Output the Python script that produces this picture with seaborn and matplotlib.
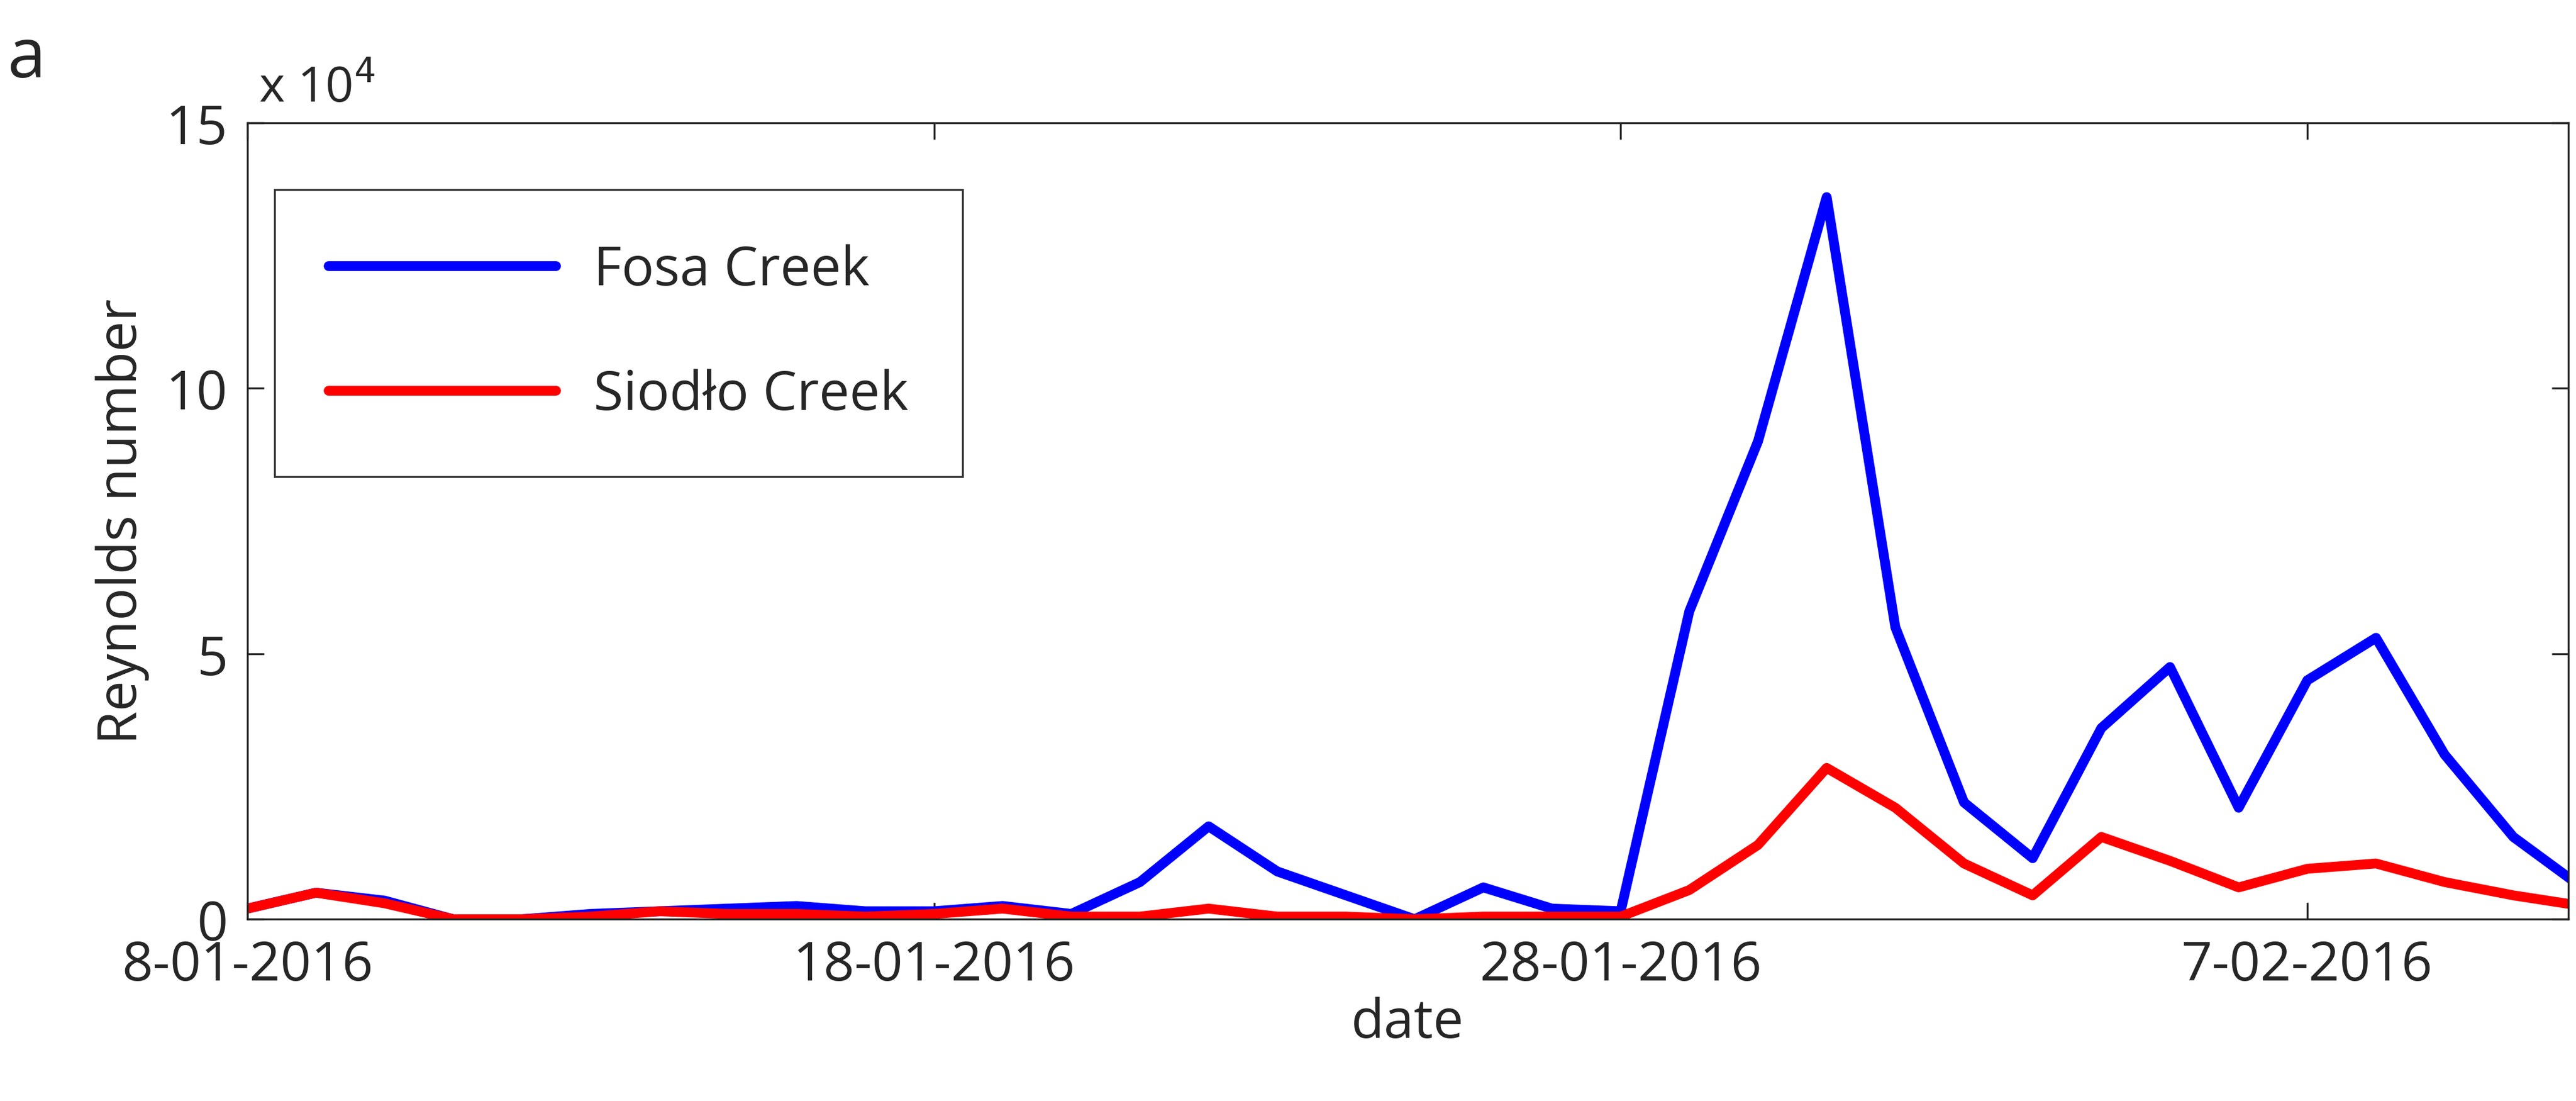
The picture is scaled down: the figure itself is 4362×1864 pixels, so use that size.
import matplotlib
matplotlib.use("Agg")
import matplotlib.pyplot as plt
import seaborn as sns
import pandas as pd
import numpy as np

days = list(range(35))  # days since 8-01-2016
fosa = [0.2,0.5,0.35,0,0,0.1,0.15,0.2,0.25,0.15,0.15,0.25,0.1,0.7,1.75,0.9,0.45,0,0.6,0.2,0.15,
        5.8,9.0,13.6,5.5,2.2,1.15,3.6,4.75,2.1,4.5,5.3,3.1,1.55,0.6]
siodlo = [0.2,0.5,0.3,0,0,0.05,0.15,0.1,0.1,0.05,0.1,0.2,0.05,0.05,0.2,0.05,0.05,0.0,0.05,0.05,0.05,
          0.55,1.4,2.85,2.1,1.05,0.45,1.55,1.1,0.6,0.95,1.05,0.7,0.45,0.25]
tick_days = [0, 10, 20, 30]
tick_labels = ["8-01-2016", "18-01-2016", "28-01-2016", "7-02-2016"]

sns.set_style("ticks")
plt.rcParams['font.family'] = ['Open Sans', 'DejaVu Sans']

df = pd.DataFrame({"day": days*2,
                   "Re": [v*1e4 for v in fosa] + [v*1e4 for v in siodlo],
                   "creek": ["Fosa Creek"]*35 + ["Siodło Creek"]*35})

fig = plt.figure(figsize=(21.81, 9.325), dpi=200)
ax = fig.add_axes([0.096, 0.165, 0.901, 0.723])
sns.lineplot(data=df, x="day", y="Re", hue="creek", palette=["#0000ff", "#ff0000"],
             linewidth=6, ax=ax)
ax.set_xlim(0, 33.8)
ax.set_ylim(0, 15e4)
ax.set_yticks([0, 5e4, 10e4, 15e4])
ax.set_yticklabels(["0", "5", "10", "15"])
ax.set_xticks(tick_days)
ax.set_xticklabels(tick_labels)
ax.tick_params(labelsize=33, direction="in", length=10, width=1.2, top=True, right=True)
ax.tick_params(axis="x", pad=12)
ax.tick_params(axis="y", pad=12)
for s in ax.spines.values():
    s.set_linewidth(1.2)
ax.set_xlabel("date", fontsize=33, labelpad=2)
ax.set_ylabel("Reynolds number", fontsize=33, labelpad=10)
ax.text(0.03, 1.012, r"x 10$^4$", transform=ax.transAxes, fontsize=30, ha="center", va="bottom")
fig.text(0.003, 0.93, "a", fontsize=42)
leg = ax.legend(loc="upper left", bbox_to_anchor=(0.0, 0.95), fontsize=33,
                frameon=True, fancybox=False, edgecolor="black", handlelength=4.2,
                labelspacing=1.3, borderpad=1.0, handletextpad=0.7, title=None)
leg.get_frame().set_linewidth(1.2)
for l in leg.get_lines():
    l.set_linewidth(6)
fig.savefig("out.png", dpi=200)
